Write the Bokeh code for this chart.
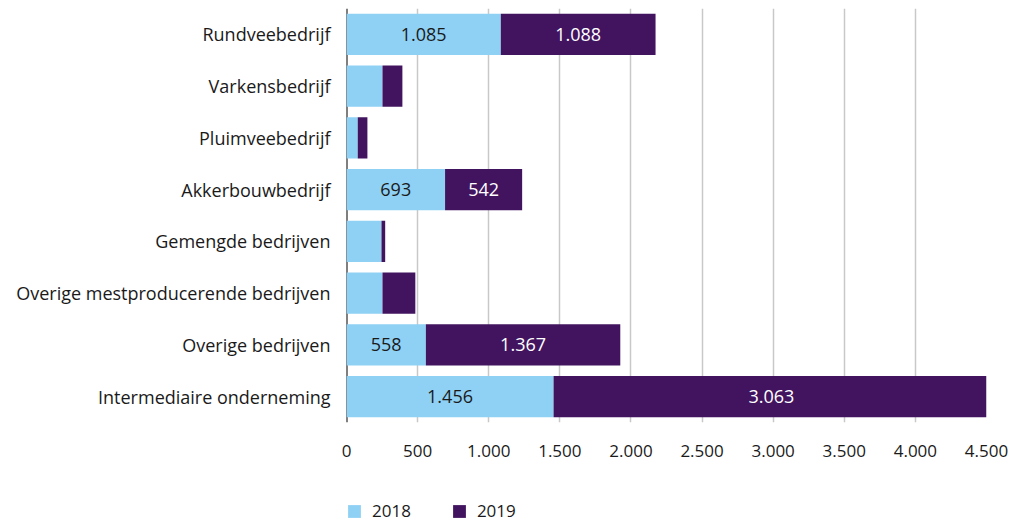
from bokeh.plotting import figure
from bokeh.layouts import column
from bokeh.models import (ColumnDataSource, Range1d, FixedTicker, Legend, LegendItem, LabelSet, Span)
from bokeh.core.properties import value
from bokeh.embed import file_html
from bokeh.resources import INLINE

categories = ["Rundveebedrijf", "Varkensbedrijf", "Pluimveebedrijf", "Akkerbouwbedrijf",
              "Gemengde bedrijven", "Overige mestproducerende bedrijven",
              "Overige bedrijven", "Intermediaire onderneming"]
years = ["2018", "2019"]
v2018 = [1085, 253, 79, 693, 246, 253, 558, 1456]
v2019 = [1088, 140, 68, 542, 26, 231, 1367, 3063]
x_ticks = [0, 500, 1000, 1500, 2000, 2500, 3000, 3500, 4000, 4500]

colors = ["#8fd1f4", "#42145f"]
FONT = "Open Sans"


def nl(n):
    return f"{n:,}".replace(",", ".")


src = ColumnDataSource(dict(cat=categories, y2018=v2018, y2019=v2019))

p = figure(y_range=categories[::-1], x_range=Range1d(0, 4500), width=1015, height=490,
           output_backend="svg", toolbar_location=None,
           min_border_left=346, min_border_right=29, min_border_top=8, min_border_bottom=68)

p.add_layout(Span(location=0, dimension="height", line_color="#000000", line_width=2,
                  level="underlay"))

rs = p.hbar_stack(["y2018", "y2019"], y="cat", height=0.8, color=colors, source=src,
                  line_color=None)

# data labels (only for segments large enough)
lx, ly, lt, lc = [], [], [], []
for c, a, b in zip(categories, v2018, v2019):
    if a >= 500:
        lx.append(a / 2); ly.append(c); lt.append(nl(a)); lc.append("#1a1a1a")
    if b >= 500:
        lx.append(a + b / 2); ly.append(c); lt.append(nl(b)); lc.append("#ffffff")
lsrc = ColumnDataSource(dict(x=lx, y=ly, t=lt, c=lc))
labels = LabelSet(x="x", y="y", text="t", source=lsrc, text_align="center",
                  text_baseline="middle", text_color="c", text_font=value(FONT),
                  text_font_size="18px")
p.add_layout(labels)

p.outline_line_color = None
p.ygrid.grid_line_color = None
p.xgrid.grid_line_color = "#c8c8c8"
p.xgrid.grid_line_width = 1.5
p.xaxis.ticker = FixedTicker(ticks=x_ticks)
p.xaxis.major_label_overrides = {t: nl(t) for t in x_ticks}
p.xaxis.axis_line_color = None
p.xaxis.major_tick_line_color = None
p.xaxis.minor_tick_line_color = None
p.xaxis.major_label_standoff = 16
p.xaxis.major_label_text_font = FONT
p.xaxis.major_label_text_font_size = "17px"
p.xaxis.major_label_text_color = "#1a1a1a"

p.yaxis.axis_line_color = None
p.yaxis.major_tick_line_color = None
p.yaxis.minor_tick_line_color = None
p.yaxis.major_label_standoff = 10
p.yaxis.major_label_text_font = FONT
p.yaxis.major_label_text_font_size = "18px"
p.yaxis.major_label_text_color = "#1a1a1a"

# legend strip below the chart (dummy swatch renderers lie outside its visible range)
lf = figure(width=1015, height=35, x_range=Range1d(0, 1), y_range=Range1d(0, 1),
            output_backend="svg", toolbar_location=None,
            min_border_left=0, min_border_right=0, min_border_top=0, min_border_bottom=0)
lf.axis.visible = False
lf.grid.visible = False
lf.outline_line_color = None
swatch = ColumnDataSource(dict(left=[5], right=[6], bottom=[5], top=[6]))
lrs = [lf.quad(left="left", right="right", bottom="bottom", top="top",
               fill_color=c, line_color=None, source=swatch) for c in colors]
legend = Legend(items=[LegendItem(label=years[i], renderers=[lrs[i]]) for i in range(2)],
                orientation="horizontal", location=(0, 3), padding=0, margin=0,
                spacing=40, glyph_width=16, glyph_height=16, label_standoff=10,
                label_text_font=FONT, label_text_font_size="17px",
                label_text_color="#1a1a1a", border_line_color=None,
                background_fill_alpha=0)
lf.add_layout(legend)

layout = column(p, lf, spacing=0)
open("out.html", "w").write(file_html(layout, INLINE))
